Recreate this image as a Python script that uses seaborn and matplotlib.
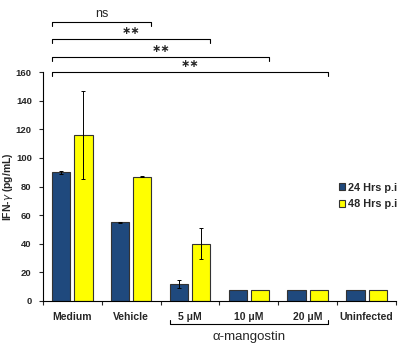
import pandas as pd
import matplotlib
matplotlib.use("Agg")
import matplotlib.pyplot as plt
import seaborn as sns

conditions = ["Medium", "Vehicle", "5 μM", "10 μM", "20 μM", "Uninfected"]
hours = ["24 Hrs p.i", "48 Hrs p.i"]
ifn_24h = [90, 55, 12, 8, 8, 8]
ifn_48h = [116, 87, 40, 8, 8, 8]
err_24h = [1, 0.5, 3, 0, 0, 0]
err_48h = [31, 0.5, 11, 0, 0, 0]

# significance: Medium vs group index k
sig_ends = [1, 2, 3, 4]
sig_labels = ["ns", "∗∗", "∗∗", "∗∗"]
sig_levels = [195, 183, 170.5, 160]


def make_plot():
    df = pd.DataFrame({
        "condition": conditions * 2,
        "time": [hours[0]] * 6 + [hours[1]] * 6,
        "value": ifn_24h + ifn_48h,
    })

    sns.set_style("white")
    plt.rcParams["font.family"] = ["Liberation Sans", "DejaVu Sans"]

    fig = plt.figure(figsize=(4.16, 3.52), dpi=100)
    ax = fig.add_axes([0.103, 0.145, 0.849, 0.65])

    sns.barplot(data=df, x="condition", y="value", hue="time",
                palette=["#1F497D", "#FFFF00"], saturation=1,
                edgecolor="#333333", linewidth=0.8, width=0.76, gap=0.18,
                errorbar=None, ax=ax)

    for cont, errs in zip(ax.containers, [err_24h, err_48h]):
        for bar, e in zip(cont, errs):
            if e > 0:
                ax.errorbar(bar.get_x() + bar.get_width() / 2, bar.get_height(),
                            yerr=e, color="black", linewidth=0.7, capsize=1.5,
                            capthick=0.7)

    ax.set_xlim(-0.5, 5.5)
    ax.set_ylim(0, 160)
    ax.set_yticks(range(0, 161, 20))
    ax.tick_params(axis="y", labelsize=6.8, length=3, width=0.8, direction="out", left=True, pad=5)
    for t in ax.get_yticklabels():
        t.set_fontweight("bold")
    ax.set_xticks(range(6))
    ax.set_xticklabels(conditions, fontsize=7.5, fontweight="bold")
    ax.tick_params(axis="x", length=0, pad=8)
    ax.set_xticks([i - 0.5 for i in range(7)], minor=True)
    ax.tick_params(axis="x", which="minor", length=3, width=0.8, direction="out", bottom=True)
    ax.set_xlabel("")
    ax.set_ylabel("IFN-$\\gamma$ (pg/mL)", fontsize=7.5, fontweight="bold")
    ax.yaxis.set_label_coords(-0.078, 0.5)
    sns.despine(ax=ax)
    for s in ["left", "bottom"]:
        ax.spines[s].set_color("black")
        ax.spines[s].set_linewidth(0.8)

    # significance brackets
    left = ax.containers[0][0].get_x()
    for k, lab, lev in zip(sig_ends, sig_labels, sig_levels):
        bar = ax.containers[1][k]
        right = bar.get_x() + bar.get_width()
        ax.plot([left, left, right, right], [lev - 2.5, lev, lev, lev - 2.5],
                color="black", linewidth=0.8, clip_on=False)
        if lab == "ns":
            ax.text((left + right) / 2, lev + 1.5, lab, ha="center", va="bottom",
                    fontsize=9)
        else:
            ax.text((left + right) / 2, lev + 5.5, lab, ha="center", va="center",
                    fontsize=8, fontweight="bold", family=["DejaVu Sans"])

    # alpha-mangostin bracket under x axis
    l2 = ax.containers[0][2].get_x()
    r2 = ax.containers[1][4].get_x() + ax.containers[1][4].get_width()
    ax.plot([l2, l2, r2, r2], [-13, -16, -16, -13], color="black",
            linewidth=0.8, clip_on=False)
    ax.text((l2 + r2) / 2, -25, "α-mangostin", ha="center", va="center", fontsize=9.5)

    ax.legend(loc="upper left", bbox_to_anchor=(0.81, 0.56), frameon=False,
              handlelength=0.6, handleheight=0.6, handletextpad=0.3,
              labelspacing=0.6, prop={"size": 7.8, "weight": "bold"})

    fig.savefig("out.png", dpi=100)


if __name__ == "__main__":
    make_plot()
